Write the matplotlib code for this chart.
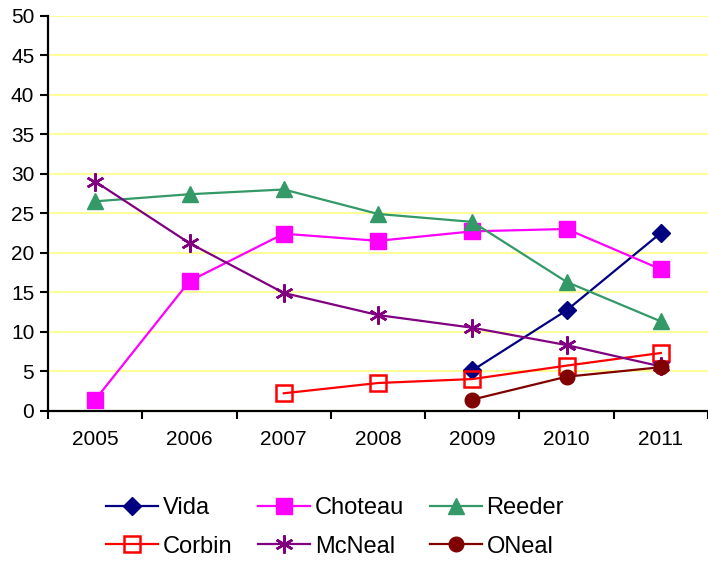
import numpy as np
import matplotlib
matplotlib.use('Agg')
import matplotlib.pyplot as plt

plt.rcParams['font.family'] = ['Liberation Sans', 'DejaVu Sans']

years = ['2005', '2006', '2007', '2008', '2009', '2010', '2011']
nan = np.nan
vida = [nan, nan, nan, nan, 5.1, 12.7, 22.5]
choteau = [1.4, 16.4, 22.4, 21.5, 22.7, 23.0, 17.9]
reeder = [26.5, 27.4, 28.0, 24.9, 23.9, 16.3, 11.3]
corbin = [nan, nan, 2.2, 3.5, 4.0, 5.7, 7.3]
mcneal = [29.0, 21.2, 14.9, 12.1, 10.5, 8.3, 5.6]
oneal = [nan, nan, nan, nan, 1.4, 4.3, 5.5]

fig = plt.figure(figsize=(7.08, 5.61), dpi=100)
ax = fig.add_axes([0.068, 0.268, 0.932, 0.704])

x = np.arange(len(years)) + 0.5

l1, = ax.plot(x, vida, color='#000080', lw=1.6, marker='D', ms=9.5, label='Vida')
l2, = ax.plot(x, choteau, color='#FF00FF', lw=1.6, marker='s', ms=11, label='Choteau')
l3, = ax.plot(x, reeder, color='#339966', lw=1.6, marker='^', ms=11.5, label='Reeder')
l4, = ax.plot(x, corbin, color='#FF0000', lw=1.6, marker='s', ms=11, mfc='none',
              mew=1.8, label='Corbin')
l5, = ax.plot(x, mcneal, color='#800080', lw=1.6, marker=(6, 2, 0), ms=13, mew=1.8,
              label='McNeal')
l6, = ax.plot(x, oneal, color='#800000', lw=1.6, marker='o', ms=10.5, label='ONeal')

ax.set_xlim(0, 7)
ax.set_ylim(0, 50)
ax.set_yticks(np.arange(0, 51, 5))
ax.set_xticks(np.arange(0, 8))
ax.set_xticklabels([])
ax.set_xticks(x, minor=True)
ax.set_xticklabels(years, minor=True)
ax.tick_params(axis='x', which='minor', length=0, pad=14, labelsize=15)
ax.tick_params(axis='x', which='major', length=6, width=1.5, direction='out')
ax.tick_params(axis='y', length=6, width=1.5, direction='out', labelsize=15, pad=4)

ax.grid(axis='y', color='#FFFF99', lw=1.5)
ax.set_axisbelow(True)
for s in ['top', 'right']:
    ax.spines[s].set_visible(False)
for s in ['left', 'bottom']:
    ax.spines[s].set_linewidth(1.6)

# legend fills column by column, so order for row-wise reading
handles = [l1, l4, l2, l5, l3, l6]
fig.legend(handles, [h.get_label() for h in handles], ncol=3, loc='center',
           bbox_to_anchor=(0.473, 0.06), frameon=False, fontsize=17,
           handlelength=2.2, handletextpad=0.2, columnspacing=1.1,
           labelspacing=0.7)

fig.savefig('out.png', dpi=100)
